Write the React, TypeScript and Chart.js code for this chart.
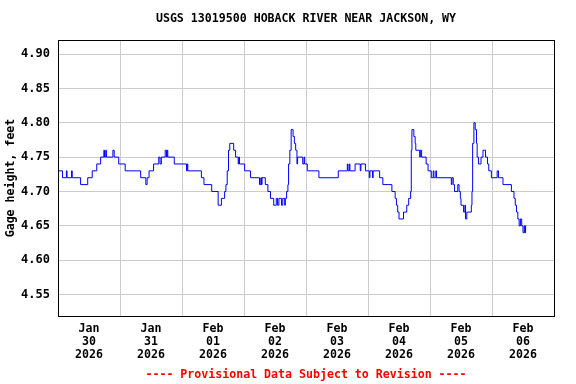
import React, { useEffect, useRef } from "react";
import { Chart, registerables } from "chart.js";

Chart.register(...registerables);

// Hours since Jan 30 2026 00:00 at which the gage height changes
const hours = [
  0, 1.75, 3.25, 3.5, 5.25, 5.5, 8.75, 11.5, 13.25, 15, 16.5, 17.75, 18, 18.5, 18.75,
  21.25, 21.75, 23.5, 26, 32, 34, 34.5, 35.25, 37, 39, 39.5, 40, 41.5, 42, 42.25, 42.5,
  45, 49.75, 50, 50.25, 55.5, 56.5, 59.5, 62, 63.25, 64.5, 65, 65.5, 66, 66.5, 68,
  68.75, 69.75, 70, 70.25, 72.25, 74.5, 78, 78.5, 78.75, 79, 80.25, 81.25, 82.25,
  83.5, 84.5, 85, 85.5, 86.5, 87, 87.75, 88, 88.5, 89, 89.25, 89.75, 90.25, 91, 91.5,
  92, 92.5, 92.75, 94.75, 95.25, 95.5, 96.5, 101, 108.5, 112, 112.25, 112.75, 113,
  115, 117, 117.25, 119, 120.5, 120.75, 121.75, 122, 124.5, 125.75, 129.25, 130.5,
  131, 131.5, 132, 133.75, 135, 135.75, 136.5, 136.75, 137, 137.75, 138.25, 138.5,
  140, 140.25, 140.75, 142.5, 143.25, 144.5, 145.25, 145.5, 146.25, 146.5, 152.25,
  152.5, 153, 153.5, 154.75, 155.25, 155.75, 156, 157, 157.5, 157.75, 158.25, 160,
  160.25, 160.5, 161, 161.5, 162, 162.25, 162.75, 163.75, 164.5, 165.5, 166.25,
  166.75, 167.75, 170, 170.5, 172.25, 175.5, 176.5, 177, 177.5, 178, 178.5, 179,
  179.5, 180, 180.5, 180.75, 181, 181.25,
];

// Gage height, feet
const gage = [
  4.73, 4.72, 4.73, 4.72, 4.73, 4.72, 4.71, 4.72, 4.73, 4.74, 4.75, 4.76, 4.75, 4.76, 4.75,
  4.76, 4.75, 4.74, 4.73, 4.72, 4.71, 4.72, 4.73, 4.74, 4.75, 4.74, 4.75, 4.76, 4.75, 4.76, 4.75,
  4.74, 4.73, 4.74, 4.73, 4.72, 4.71, 4.70, 4.68, 4.69, 4.70, 4.71, 4.73, 4.76, 4.77, 4.76,
  4.75, 4.74, 4.75, 4.74, 4.73, 4.72, 4.71, 4.72, 4.71, 4.72, 4.71, 4.70, 4.69,
  4.68, 4.69, 4.68, 4.69, 4.68, 4.69, 4.68, 4.69, 4.70, 4.71, 4.74, 4.76, 4.79, 4.78, 4.77,
  4.76, 4.74, 4.75, 4.74, 4.75, 4.74, 4.73, 4.72, 4.73, 4.74, 4.73, 4.74, 4.73,
  4.74, 4.73, 4.74, 4.73, 4.72, 4.73, 4.72, 4.73, 4.72, 4.71, 4.70, 4.69,
  4.68, 4.67, 4.66, 4.67, 4.68, 4.69, 4.70, 4.76, 4.79, 4.78, 4.77, 4.76,
  4.75, 4.76, 4.75, 4.74, 4.73, 4.72, 4.73, 4.72, 4.73, 4.72, 4.71,
  4.72, 4.71, 4.70, 4.71, 4.70, 4.69, 4.68, 4.67, 4.68, 4.66, 4.67, 4.68,
  4.70, 4.77, 4.80, 4.79, 4.77, 4.75, 4.74, 4.75, 4.76, 4.75, 4.74,
  4.73, 4.72, 4.73, 4.72, 4.71, 4.70, 4.69, 4.68, 4.67, 4.66, 4.65, 4.66,
  4.65, 4.64, 4.65, 4.64, 4.65, 4.65,
];

// Day labels (centred on each day)
const dayLabels = [
  ["Jan", "30", "2026"],
  ["Jan", "31", "2026"],
  ["Feb", "01", "2026"],
  ["Feb", "02", "2026"],
  ["Feb", "03", "2026"],
  ["Feb", "04", "2026"],
  ["Feb", "05", "2026"],
  ["Feb", "06", "2026"],
];

const yTicks = [4.55, 4.6, 4.65, 4.7, 4.75, 4.8, 4.85, 4.9];

const TITLE = "USGS 13019500 HOBACK RIVER NEAR JACKSON, WY";
const FOOTER = "---- Provisional Data Subject to Revision ----";
const Y_TITLE = "Gage height, feet";

const FONT = "'DejaVu Sans Mono', 'Liberation Mono', monospace";

const framePlugin = {
  id: "frame",
  afterDatasetsDraw(chart: any) {
    const { ctx, chartArea } = chart;
    ctx.save();
    ctx.strokeStyle = "#000";
    ctx.lineWidth = 1;
    ctx.strokeRect(
      Math.round(chartArea.left) + 0.5,
      Math.round(chartArea.top) + 0.5,
      Math.round(chartArea.right - chartArea.left),
      Math.round(chartArea.bottom - chartArea.top)
    );
    ctx.restore();
  },
  afterDraw(chart: any) {
    const { ctx, chartArea } = chart;
    const cx = (chartArea.left + chartArea.right) / 2;
    ctx.save();
    ctx.textAlign = "center";
    ctx.textBaseline = "middle";
    ctx.font = `bold 11.6px ${FONT}`;
    ctx.fillStyle = "#000";
    ctx.fillText(TITLE, cx, 19);
    ctx.fillStyle = "#ff0000";
    ctx.fillText(FOOTER, cx, 375);
    ctx.restore();
  },
};

export default function App() {
  const ref = useRef<HTMLCanvasElement | null>(null);

  useEffect(() => {
    document.body.style.margin = "0";
    if (!ref.current) return;
    const points = hours.map((h, i) => ({ x: h, y: gage[i] }));
    const chart = new Chart(ref.current, {
      type: "line",
      data: {
        datasets: [
          {
            data: points,
            borderColor: "#0000ff",
            borderWidth: 1,
            pointRadius: 0,
            stepped: true,
            fill: false,
          },
        ],
      },
      options: {
        responsive: false,
        animation: false,
        devicePixelRatio: 1,
        layout: { padding: { left: 0, right: 22, top: 40, bottom: 16 } },
        plugins: {
          legend: { display: false },
          tooltip: { enabled: false },
          title: { display: false },
          subtitle: { display: false },
        },
        scales: {
          x: {
            type: "linear",
            min: 0,
            max: 192,
            afterBuildTicks: (scale: any) => {
              const t = [];
              for (let v = 0; v <= 192; v += 12) t.push({ value: v });
              scale.ticks = t;
            },
            afterFit: (scale: any) => {
              scale.height = 52;
            },
            ticks: {
              autoSkip: false,
              maxRotation: 0,
              minRotation: 0,
              padding: 7,
              color: "#000",
              font: { family: FONT, size: 11.6, weight: "bold", lineHeight: 1.1 },
              callback: (v: any) => {
                const n = Number(v);
                if (n % 24 === 12) return dayLabels[(n - 12) / 24];
                return "";
              },
            },
            grid: {
              drawTicks: false,
              color: (ctx: any) =>
                ctx.tick && ctx.tick.value % 24 === 0 ? "#cccccc" : "rgba(0,0,0,0)",
              lineWidth: 1,
            },
            border: { display: true, color: "#000" },
          },
          y: {
            type: "linear",
            min: 4.5188,
            max: 4.9204,
            afterBuildTicks: (scale: any) => {
              scale.ticks = yTicks.map((v) => ({ value: v }));
            },
            afterFit: (scale: any) => {
              scale.width = 58;
            },
            ticks: {
              padding: 8,
              color: "#000",
              font: { family: FONT, size: 12, weight: "bold" },
              callback: (v: any) => Number(v).toFixed(2),
            },
            grid: { drawTicks: false, color: "#cccccc", lineWidth: 1 },
            border: { display: true, color: "#000" },
            title: {
              display: true,
              text: Y_TITLE,
              color: "#000",
              font: { family: FONT, size: 11.6, weight: "bold" },
              padding: { top: 4, bottom: 0 },
            },
          },
        },
      },
      plugins: [framePlugin],
    } as any);
    return () => chart.destroy();
  }, []);

  return (
    <canvas
      ref={ref}
      width={576}
      height={384}
      style={{ display: "block", width: 576, height: 384 }}
    />
  );
}
